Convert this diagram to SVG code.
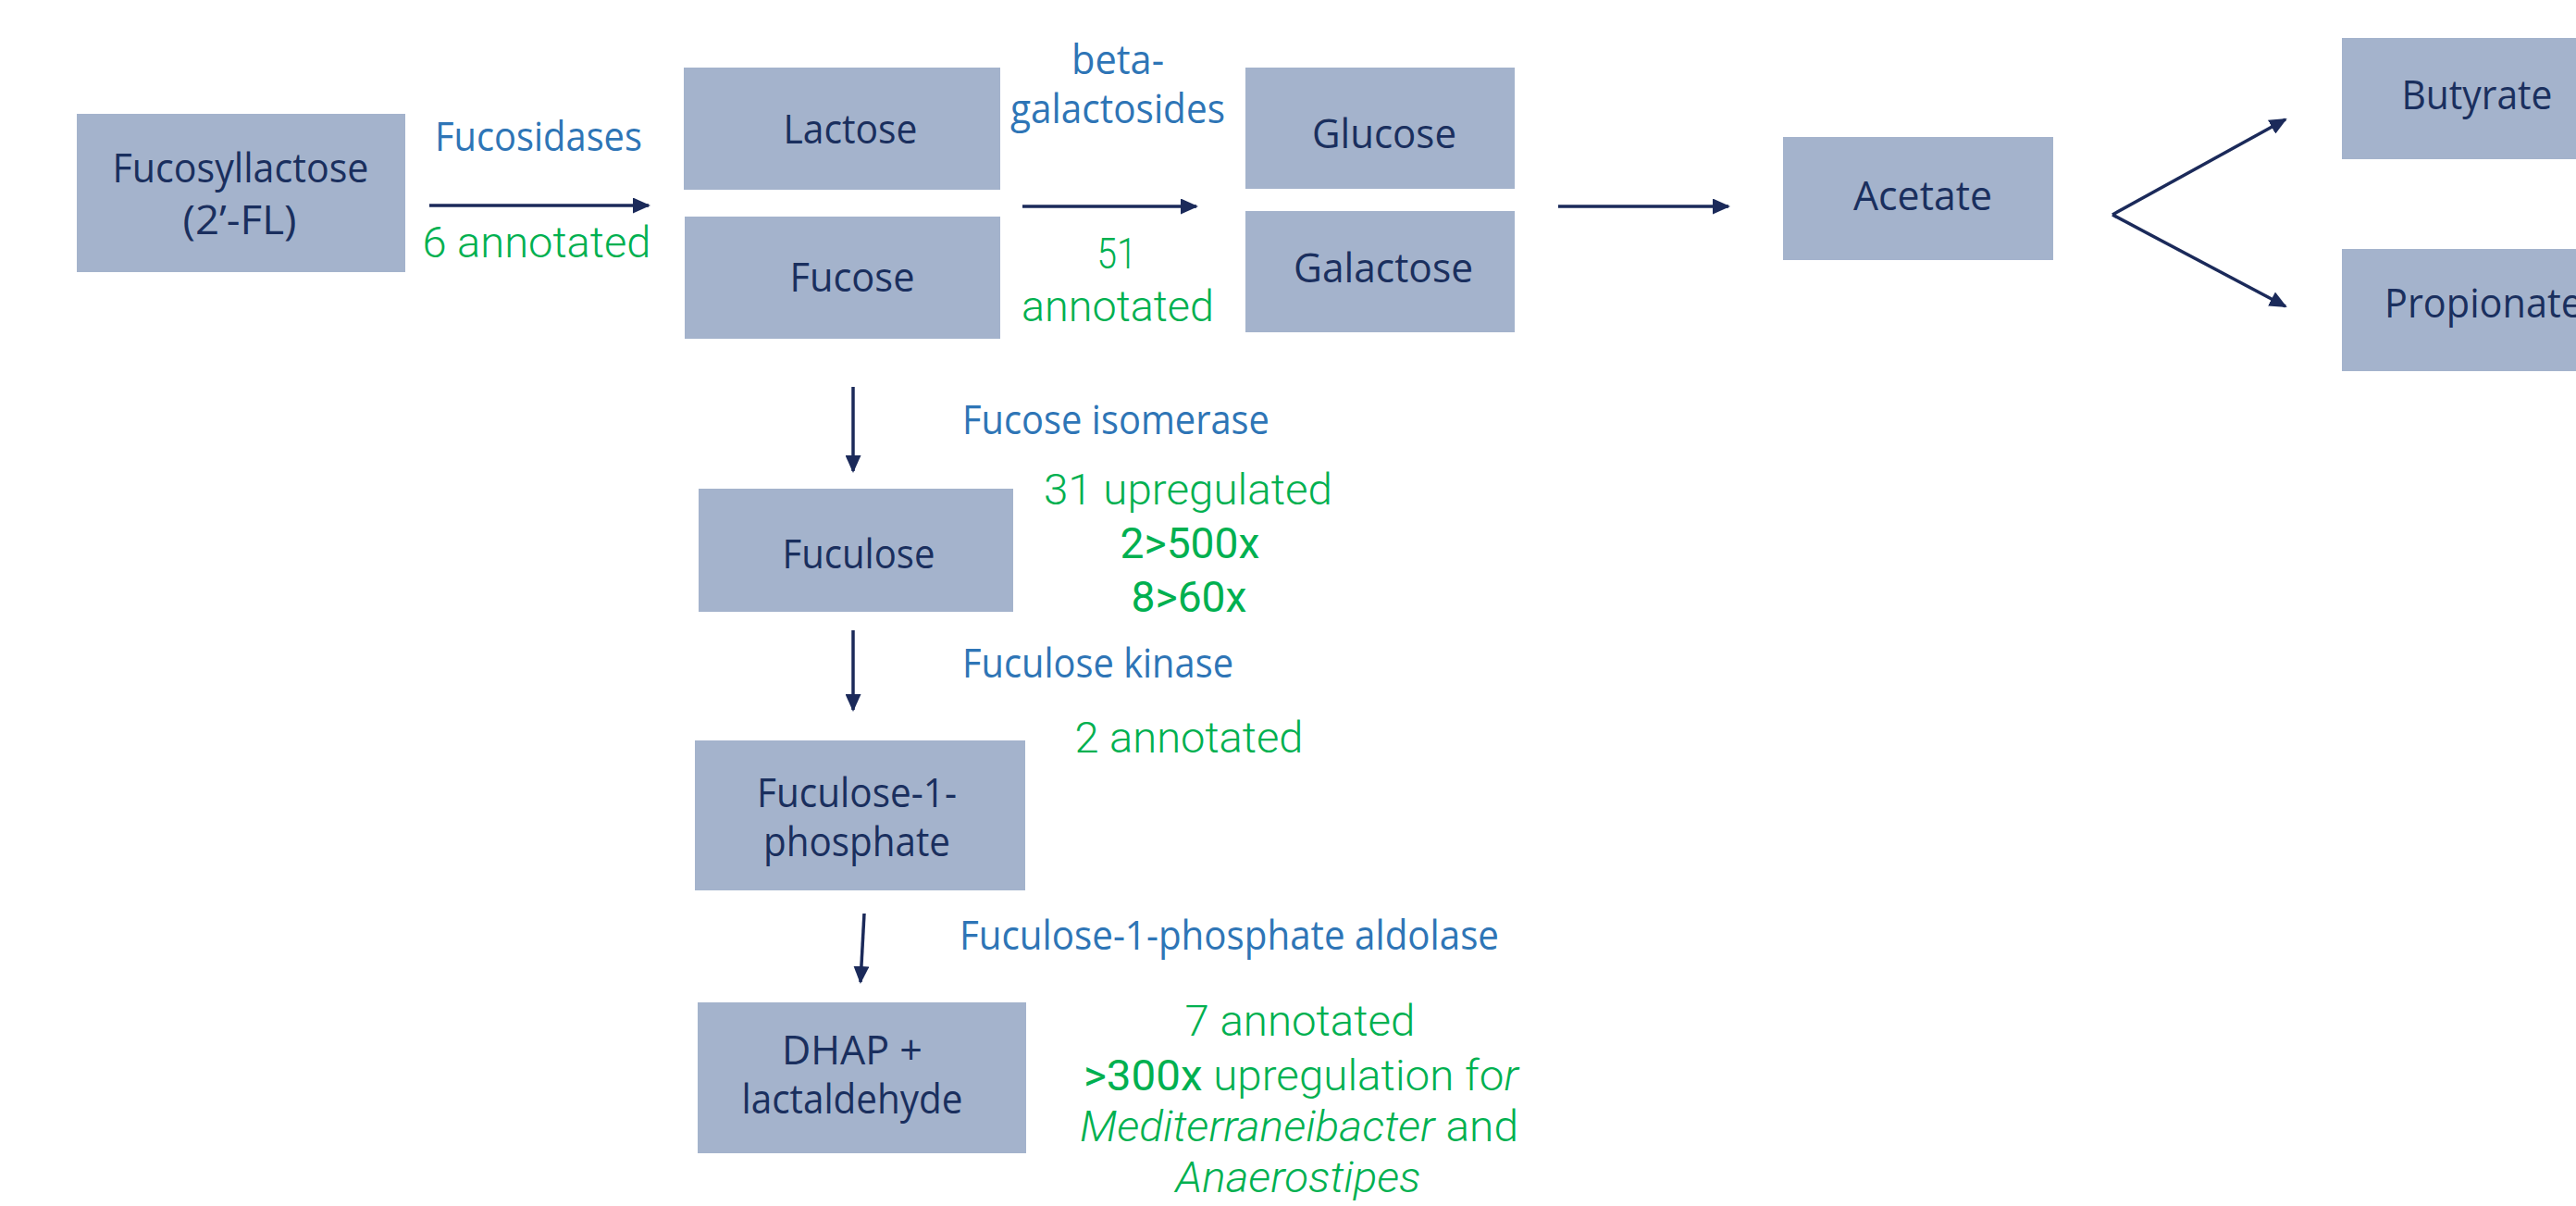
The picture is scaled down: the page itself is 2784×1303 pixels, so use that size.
<svg xmlns="http://www.w3.org/2000/svg" width="2784" height="1303" viewBox="0 0 2784 1303">
<style>
.box{fill:#A4B3CC;}
.bt{font-family:"Open Sans","Noto Sans","Liberation Sans",sans-serif;font-size:43px;fill:#1A2F5E;text-anchor:middle;}
.enz{font-family:"Open Sans","Noto Sans","Liberation Sans",sans-serif;font-size:43px;fill:#2E75B6;}
.g{font-family:Roboto,"Liberation Sans",sans-serif;font-weight:300;font-size:47px;fill:#00B050;text-anchor:middle;}
.gb{font-weight:400;}
.con{stroke:#1B2A5A;stroke-width:3.5;fill:none;marker-end:url(#ah);}
</style>
<defs>
<marker id="ah" viewBox="0 0 19 17" refX="17" refY="8.5" markerWidth="19" markerHeight="17" markerUnits="userSpaceOnUse" orient="auto">
<path d="M0,0 L19,8.5 L0,17 z" fill="#1B2A5A"/>
</marker>
</defs>
<rect width="2784" height="1303" fill="#FFFFFF"/>

<g id="connectors">
<line class="con" x1="464" y1="222" x2="701" y2="222"/>
<line class="con" x1="1105" y1="223" x2="1293" y2="223"/>
<line class="con" x1="1684" y1="223" x2="1868" y2="223"/>
<line class="con" x1="2283" y1="232" x2="2470" y2="129"/>
<line class="con" x1="2283" y1="232" x2="2470" y2="331"/>
<line class="con" x1="922" y1="418" x2="922" y2="509"/>
<line class="con" x1="922" y1="681" x2="922" y2="767"/>
<line class="con" x1="934" y1="987" x2="930" y2="1061"/>
</g>

<g id="node-fucosyllactose">
<rect class="box" x="83" y="123" width="355" height="171"/>
<text class="bt" x="260" y="197" textLength="277" lengthAdjust="spacingAndGlyphs">Fucosyllactose</text>
<text class="bt" x="259" y="253" textLength="123" lengthAdjust="spacingAndGlyphs">(2’-FL)</text>
</g>
<g id="node-lactose">
<rect class="box" x="739" y="73" width="342" height="132"/>
<text class="bt" x="919" y="155" textLength="145" lengthAdjust="spacingAndGlyphs">Lactose</text>
</g>
<g id="node-fucose">
<rect class="box" x="740" y="234" width="341" height="132"/>
<text class="bt" x="921" y="315" textLength="135" lengthAdjust="spacingAndGlyphs">Fucose</text>
</g>
<g id="node-glucose">
<rect class="box" x="1346" y="73" width="291" height="131"/>
<text class="bt" x="1496" y="160" textLength="156" lengthAdjust="spacingAndGlyphs">Glucose</text>
</g>
<g id="node-galactose">
<rect class="box" x="1346" y="228" width="291" height="131"/>
<text class="bt" x="1495" y="305" textLength="194" lengthAdjust="spacingAndGlyphs">Galactose</text>
</g>
<g id="node-acetate">
<rect class="box" x="1927" y="148" width="292" height="133"/>
<text class="bt" x="2078" y="227" textLength="150" lengthAdjust="spacingAndGlyphs">Acetate</text>
</g>
<g id="node-butyrate">
<rect class="box" x="2531" y="41" width="292" height="131"/>
<text class="bt" x="2677" y="118" textLength="163" lengthAdjust="spacingAndGlyphs">Butyrate</text>
</g>
<g id="node-propionate">
<rect class="box" x="2531" y="269" width="292" height="132"/>
<text class="bt" x="2577" y="343" style="text-anchor:start" textLength="214" lengthAdjust="spacingAndGlyphs">Propionate</text>
</g>
<g id="node-fuculose">
<rect class="box" x="755" y="528" width="340" height="133"/>
<text class="bt" x="928" y="614" textLength="165" lengthAdjust="spacingAndGlyphs">Fuculose</text>
</g>
<g id="node-fuculose-1-phosphate">
<rect class="box" x="751" y="800" width="357" height="162"/>
<text class="bt" x="926" y="872" textLength="216" lengthAdjust="spacingAndGlyphs">Fuculose-1-</text>
<text class="bt" x="926" y="925" textLength="202" lengthAdjust="spacingAndGlyphs">phosphate</text>
</g>
<g id="node-dhap">
<rect class="box" x="754" y="1083" width="355" height="163"/>
<text class="bt" x="921" y="1150" textLength="152" lengthAdjust="spacingAndGlyphs">DHAP +</text>
<text class="bt" x="921" y="1203" textLength="239" lengthAdjust="spacingAndGlyphs">lactaldehyde</text>
</g>

<g id="labels">
<text class="enz" x="470" y="163" textLength="224" lengthAdjust="spacingAndGlyphs">Fucosidases</text>
<text class="g" x="580" y="278" textLength="247" lengthAdjust="spacingAndGlyphs">6 annotated</text>
<text class="enz" x="1208" y="80" style="text-anchor:middle" textLength="100" lengthAdjust="spacingAndGlyphs">beta-</text>
<text class="enz" x="1208" y="133" style="text-anchor:middle" textLength="232" lengthAdjust="spacingAndGlyphs">galactosides</text>
<text class="g" x="1207" y="290" textLength="43" lengthAdjust="spacingAndGlyphs">51</text>
<text class="g" x="1208" y="347" textLength="208" lengthAdjust="spacingAndGlyphs">annotated</text>
<text class="enz" x="1040" y="469" textLength="332" lengthAdjust="spacingAndGlyphs">Fucose isomerase</text>
<text class="g" x="1284" y="545" textLength="312" lengthAdjust="spacingAndGlyphs">31 upregulated</text>
<text class="g gb" x="1286" y="603" textLength="151" lengthAdjust="spacingAndGlyphs">2&gt;500x</text>
<text class="g gb" x="1285" y="661" textLength="125" lengthAdjust="spacingAndGlyphs">8&gt;60x</text>
<text class="enz" x="1040" y="732" textLength="293" lengthAdjust="spacingAndGlyphs">Fuculose kinase</text>
<text class="g" x="1285" y="813" textLength="247" lengthAdjust="spacingAndGlyphs">2 annotated</text>
<text class="enz" x="1037" y="1026" textLength="583" lengthAdjust="spacingAndGlyphs">Fuculose-1-phosphate aldolase</text>
<text class="g" x="1405" y="1119" textLength="249" lengthAdjust="spacingAndGlyphs">7 annotated</text>
<text class="g" x="1406" y="1178" textLength="470" lengthAdjust="spacingAndGlyphs"><tspan class="gb">&gt;300x</tspan> upregulation fo<tspan font-style="italic">r</tspan></text>
<text class="g" x="1404" y="1233" textLength="474" lengthAdjust="spacingAndGlyphs"><tspan font-style="italic">Mediterraneibacter</tspan> and</text>
<text class="g" x="1403" y="1288" font-style="italic" textLength="265" lengthAdjust="spacingAndGlyphs">Anaerostipes</text>
</g>
</svg>
